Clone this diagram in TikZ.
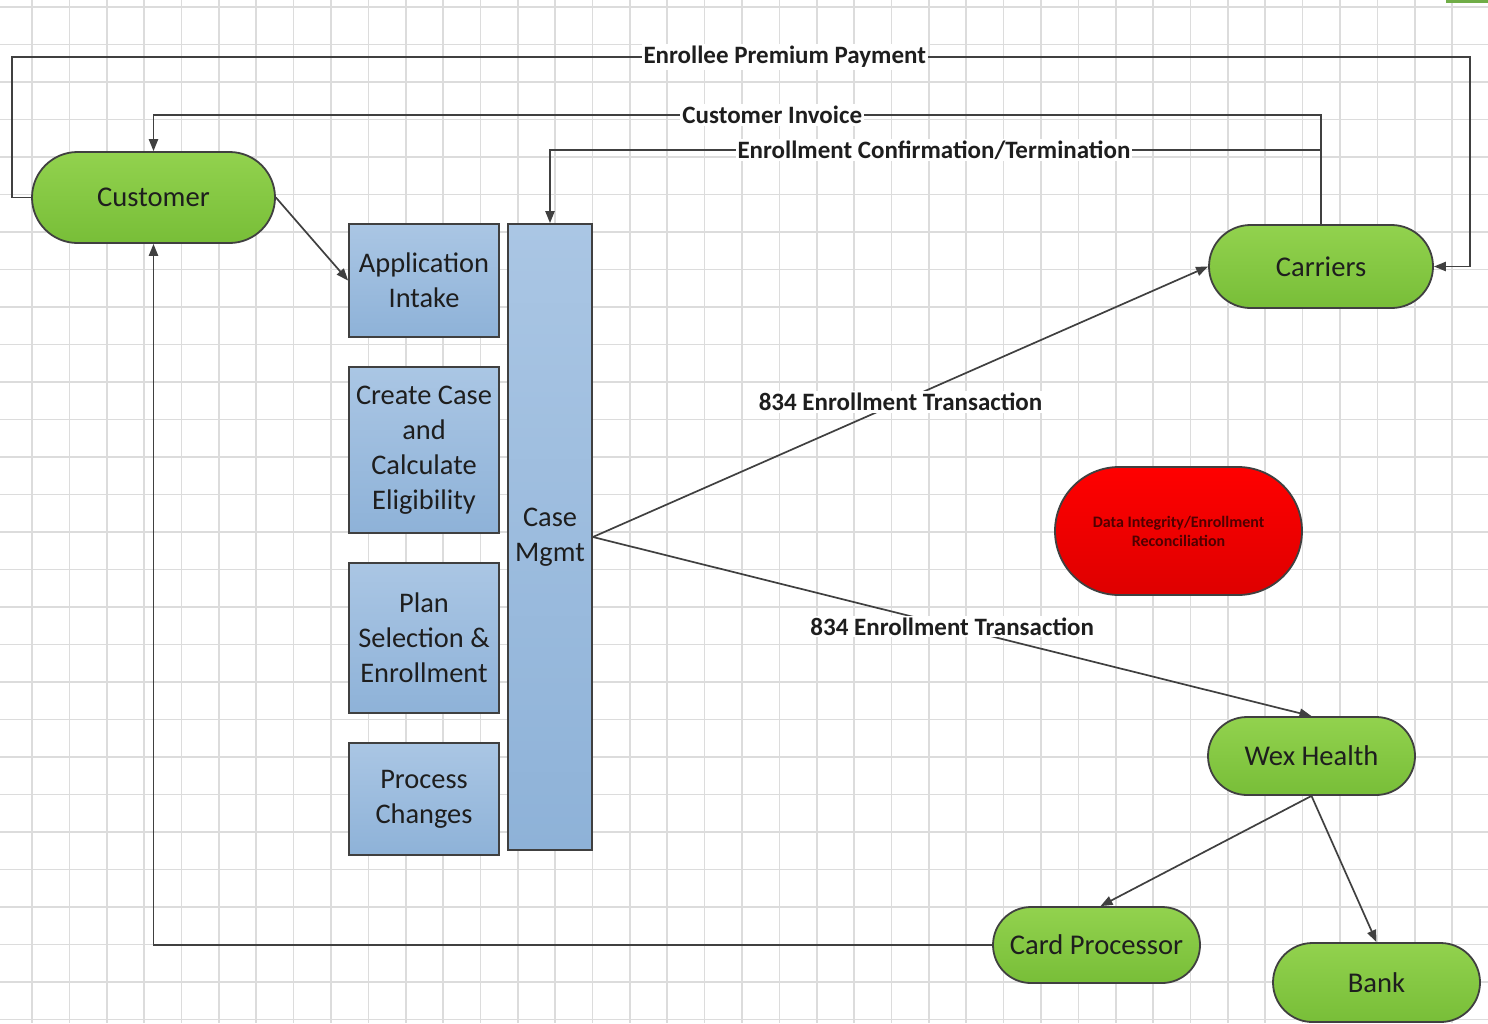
\documentclass[tikz,border=0pt]{standalone}
\usepackage{fontspec}
\setmainfont{Carlito}
\usetikzlibrary{shapes.misc,arrows.meta}
\definecolor{gridc}{RGB}{220,220,220}
\definecolor{linec}{RGB}{64,64,64}
\definecolor{grntop}{RGB}{146,210,78}
\definecolor{grnbot}{RGB}{120,190,56}
\definecolor{blutop}{RGB}{170,198,228}
\definecolor{blubot}{RGB}{142,178,216}
\definecolor{redtop}{RGB}{255,0,0}
\definecolor{redbot}{RGB}{222,0,0}
\definecolor{redtxt}{RGB}{80,0,0}
\definecolor{txtc}{RGB}{30,30,30}
\definecolor{cornergrn}{RGB}{112,173,71}
\begin{document}
\begin{tikzpicture}[x=0.5pt,y=-0.5pt,
  gridl/.style={draw=gridc,line width=0.8pt},
  grn/.style={rounded rectangle,draw=linec,line width=0.9pt,top color=grntop,bottom color=grnbot,
    text=txtc,font=\fontsize{14.3}{17.5}\selectfont,inner sep=0pt},
  blu/.style={rectangle,draw=linec,line width=0.9pt,top color=blutop,bottom color=blubot,
    text=txtc,font=\fontsize{14.2}{17.5}\selectfont,align=center,inner sep=0pt},
  redn/.style={rounded rectangle,draw=linec,line width=0.9pt,top color=redtop,bottom color=redbot,
    text=redtxt,font=\bfseries\fontsize{8}{9.5}\selectfont,align=center,inner sep=0pt},
  lbl/.style={fill=white,inner xsep=1pt,inner ysep=1pt,text=txtc,font=\bfseries\fontsize{12.5}{14}\selectfont},
  conn/.style={draw=linec,line width=0.85pt},
  arr/.style={conn,-{Triangle[length=6pt,width=4.6pt]}}
]
\useasboundingbox (0,0) rectangle (1488,1023);
\fill[white] (0,0) rectangle (1488,1023);
% grid
\foreach \i in {0,...,39} \draw[gridl] ({32+37.37*\i},0) -- ++(0,1023);
\foreach \j in {0,...,27} \draw[gridl] (0,{7+37.5*\j}) -- ++(1488,0);
\fill[cornergrn] (1446,0) rectangle (1488,3);

% green terminals
\node[grn,minimum width=121.5pt,minimum height=45.5pt] (cust) at (153.5,197.5) {Customer};
\node[grn,minimum width=112pt,minimum height=41.5pt] (carr) at (1321,266.5) {Carriers};
\node[grn,minimum width=103.5pt,minimum height=39pt] (wex) at (1311.5,756) {Wex Health};
\node[grn,minimum width=103.5pt,minimum height=38pt] (card) at (1096.5,945) {Card Processor};
\node[grn,minimum width=103.5pt,minimum height=39.5pt] (bank) at (1376.5,982.5) {Bank};
\node[redn,minimum width=123.5pt,minimum height=64pt] (recon) at (1178.5,531) {Data Integrity/Enrollment\\Reconciliation};

% blue process boxes
\node[blu,minimum width=75pt,minimum height=56.5pt] (app) at (424,280.5) {Application\\Intake};
\node[blu,minimum width=75pt,minimum height=83pt] (create) at (424,450) {Create Case\\and\\Calculate\\Eligibility};
\node[blu,minimum width=75pt,minimum height=75pt] (plan) at (424,638) {Plan\\Selection \&\\Enrollment};
\node[blu,minimum width=75pt,minimum height=56pt] (proc) at (424,799) {Process\\Changes};
\node[blu,minimum width=42pt,minimum height=313pt] (case) at (550,537) {Case\\Mgmt};

% bend coordinates
\coordinate (pl) at (12,57);
\coordinate (pr) at (1470,57);
\coordinate (ivR) at (1321,115);
\coordinate (ivL) at (153.5,115);
\coordinate (ecR) at (1321,150);

% connectors
\draw[arr] (cust.west) -| (pl) -- node[lbl,pos=0.53]{Enrollee Premium Payment} (pr) |- (carr.east);
\draw[arr] (carr.north) -- (ivR) -- node[lbl,pos=0.47]{Customer Invoice} (ivL) -- (cust.north);
\draw[arr] (ecR) -- node[lbl,pos=0.502]{Enrollment Confirmation/Termination} (ecR -| case.north) -- (case.north);
\draw[arr] (cust.east) -- (app.west);
\draw[arr] (case.east) -- node[lbl,pos=0.5]{834 Enrollment Transaction} (carr.west);
\draw[arr] (case.east) -- node[lbl,pos=0.5]{834 Enrollment Transaction} (wex.north);
\draw[arr] (wex.south) -- ([xshift=2pt]card.north);
\draw[arr] (wex.south) -- (bank.north);
\draw[arr] (card.west) -| (cust.south);
\end{tikzpicture}
\end{document}
